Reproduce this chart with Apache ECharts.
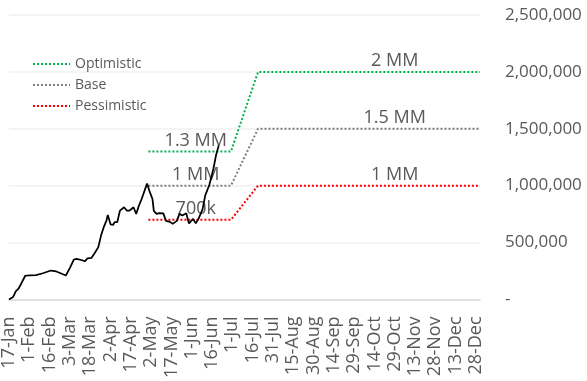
<!DOCTYPE html>
<html>
<head>
<meta charset="utf-8">
<script src="https://cdn.jsdelivr.net/npm/echarts@6/dist/echarts.min.js"></script>
<style>
    html, body { margin: 0; padding: 0; background: #fff; }
    #chart { width: 587px; height: 381px; }
</style>
</head>
<body>
<div id="chart"></div>
<script>
const months = ['Jan', 'Feb', 'Mar', 'Apr', 'May', 'Jun', 'Jul', 'Aug', 'Sep', 'Oct', 'Nov', 'Dec']

// daily categories, 17-Jan .. 31-Dec
const days = []
for (let t = Date.UTC(2023, 0, 17); t <= Date.UTC(2023, 11, 31); t += 86400000) {
    const d = new Date(t)
    days.push(d.getUTCDate() + '-' + months[d.getUTCMonth()])
}

// actual (black line)
const actualDates = [
    '17-Jan', '20-Jan', '22-Jan', '24-Jan', '26-Jan', '29-Jan', '1-Feb', '6-Feb', '11-Feb', '17-Feb',
    '21-Feb', '25-Feb', '28-Feb', '3-Mar', '6-Mar', '8-Mar', '12-Mar', '14-Mar', '16-Mar', '19-Mar',
    '21-Mar', '24-Mar', '26-Mar', '28-Mar', '30-Mar', '31-Mar', '2-Apr', '4-Apr', '5-Apr', '7-Apr',
    '9-Apr', '12-Apr', '14-Apr', '16-Apr', '19-Apr', '21-Apr', '23-Apr', '25-Apr', '26-Apr', '29-Apr',
    '1-May', '3-May', '4-May', '6-May', '8-May', '11-May', '13-May', '16-May', '18-May', '21-May',
    '23-May', '25-May', '28-May', '29-May', '30-May', '2-Jun', '4-Jun', '6-Jun', '9-Jun', '11-Jun',
    '14-Jun', '17-Jun', '19-Jun', '21-Jun'
]
const actualValues = [
    0, 21000, 70000, 94000, 138000, 208000, 212000, 214000, 230000, 254000,
    246000, 225000, 210000, 278000, 351000, 357000, 344000, 335000, 361000, 366000,
    401000, 460000, 561000, 635000, 693000, 743000, 660000, 655000, 679000, 679000,
    781000, 810000, 781000, 781000, 810000, 752000, 825000, 883000, 868000, 1018000,
    945000, 883000, 778000, 752000, 758000, 756000, 690000, 682000, 664000, 690000,
    752000, 737000, 758000, 708000, 668000, 708000, 668000, 708000, 791000, 914000,
    1006000, 1146000, 1269000, 1354000
]

// scenarios
const scenarioDates = ['30-Apr', '4-Jun', '30-Jun', '20-Jul', '29-Oct', '31-Dec']
const optimistic = [1300000, 1300000, 1300000, 2000000, 2000000, 2000000]
const base = [1000000, 1000000, 1000000, 1500000, 1500000, 1500000]
const pessimistic = [700000, 700000, 700000, 1000000, 1000000, 1000000]
const optimisticLabels = ['', '1.3 MM', '', '', '2 MM', '']
const baseLabels = ['', '1 MM', '', '', '1.5 MM', '']
const pessimisticLabels = ['', '700k', '', '', '1 MM', '']

const yTicks = [0, 500000, 1000000, 1500000, 2000000, 2500000]

const font = '"Open Sans", "Noto Sans", sans-serif'
const textColor = '#595959'

const scenario = (name, color, values, labels) => ({
    name,
    type: 'line',
    symbol: 'circle',
    symbolSize: 0,
    showSymbol: true,
    showAllSymbol: true,
    silent: true,
    lineStyle: { color, width: 2, type: [2, 2] },
    itemStyle: { color },
    data: scenarioDates.map((d, i) => ({
        value: [d, values[i]],
        label: {
            show: !!labels[i],
            position: 'top',
            distance: 2,
            formatter: labels[i],
            color: textColor,
            fontSize: 18,
            fontFamily: font,
        },
    })),
    z: 2,
})

const chart = echarts.init(document.getElementById('chart'))
chart.setOption({
    animation: false,
    backgroundColor: '#fff',
    grid: { left: 9, right: 107, top: 15, bottom: 80 },
    legend: {
        orient: 'vertical',
        left: 27,
        top: 52,
        itemWidth: 37,
        itemHeight: 14,
        itemGap: 7,
        itemStyle: { opacity: 0 },
        textStyle: { color: textColor, fontSize: 14, fontFamily: font },
        data: ['Optimistic', 'Base', 'Pessimistic'],
    },
    xAxis: {
        type: 'category',
        data: days,
        boundaryGap: false,
        axisLine: { lineStyle: { color: '#d9d9d9', width: 1.5 } },
        axisTick: { show: false },
        axisLabel: {
            interval: 14,
            rotate: 90,
            margin: 17,
            color: textColor,
            fontSize: 18,
            fontFamily: font,
        },
        splitLine: { show: false },
    },
    yAxis: {
        type: 'value',
        position: 'right',
        min: yTicks[0],
        max: yTicks[yTicks.length - 1],
        interval: yTicks[1] - yTicks[0],
        axisLine: { show: false },
        axisTick: { show: false },
        axisLabel: {
            margin: 25,
            padding: [0, 0, 10, 0],
            color: textColor,
            fontSize: 17,
            fontFamily: font,
            formatter: v => v === 0 ? '-' : v.toLocaleString('en-US'),
        },
        splitLine: { lineStyle: { color: '#f0f0f0', width: 1.5 } },
    },
    series: [
        {
            name: 'Actual',
            type: 'line',
            symbol: 'none',
            lineStyle: { color: '#000', width: 1.75 },
            data: actualDates.map((d, i) => [d, actualValues[i]]),
            z: 3,
        },
        scenario('Optimistic', '#00b050', optimistic, optimisticLabels),
        scenario('Base', '#808080', base, baseLabels),
        scenario('Pessimistic', '#ff0000', pessimistic, pessimisticLabels),
    ],
})
</script>
</body>
</html>
